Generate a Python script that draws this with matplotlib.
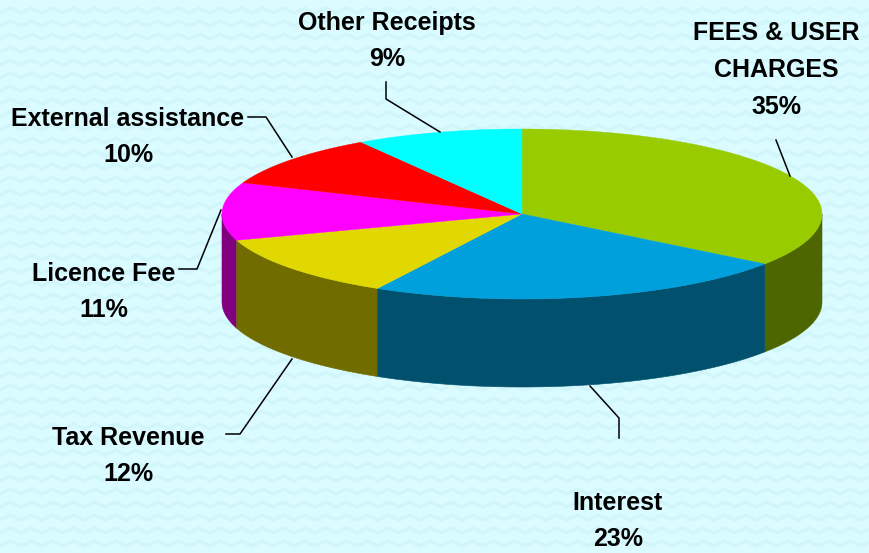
import numpy as np
import matplotlib
matplotlib.use("Agg")
import matplotlib.pyplot as plt
from matplotlib.patches import Polygon

categories = ["FEES & USER\nCHARGES", "Interest", "Tax Revenue", "Licence Fee", "External assistance", "Other Receipts"]
shares = [35, 23, 12, 11, 10, 9]
top_colors = ["#99CC00", "#00A0DC", "#E0D800", "#FF00FF", "#FF0000", "#00FFFF"]
side_colors = ["#4D6600", "#00506E", "#706C00", "#800080", "#800000", "#008080"]
label_xy = [(776, 70), (618, 521), (128, 456), (104, 292), (128, 137), (387, 41)]
leaders = [[(790,176),(776,140)], [(590,386),(619,418),(619,438)], [(292,359),(240,434),(226,434)],
           [(221,210),(197,269),(179,269)], [(292,157),(266,117),(248,117)], [(440,132),(386,99),(386,82)]]

W, H = 869, 553
fig = plt.figure(figsize=(W/100, H/100), dpi=100)
ax = fig.add_axes([0, 0, 1, 1])
ax.set_xlim(0, W); ax.set_ylim(H, 0); ax.axis("off")
fig.patch.set_facecolor("#DAFBFF")

# background zigzag texture
for y0 in np.arange(8, H+14, 13):
    xs = np.arange(-10.5, W+21, 10.5)
    ys = y0 + 5*(np.arange(len(xs)) % 2)
    ax.plot(xs, ys, color="#D1F6FA", lw=2.4, zorder=0, solid_joinstyle="miter")

cx, cy, rx, ry, depth = 522, 214, 300, 85, 88
fr = np.cumsum([0] + shares) / sum(shares)
ang = 2*np.pi*fr   # clockwise from 12 o'clock
def pt(a, d=0):
    return cx + rx*np.sin(a), cy - ry*np.cos(a) + d

# visible rim: only the front half of the ellipse
for i in [3, 2, 0, 1]:
    a0, a1 = max(ang[i], np.pi/2), min(ang[i+1], 3*np.pi/2)
    if a1 <= a0:
        continue
    a = np.linspace(a0, a1, 120)
    xs, ys = pt(a)
    xb, yb = pt(a[::-1], depth)
    ax.add_patch(Polygon(np.column_stack([np.r_[xs, xb], np.r_[ys, yb]]),
                         fc=side_colors[i], ec=side_colors[i], lw=0.4, zorder=2))

for i in range(len(shares)):
    a = np.linspace(ang[i], ang[i+1], 200)
    xs, ys = pt(a)
    ax.add_patch(Polygon(np.column_stack([np.r_[cx, xs], np.r_[cy, ys]]),
                         fc=top_colors[i], ec=top_colors[i], lw=0.3, zorder=5))

for seg in leaders:
    s = np.array(seg)
    ax.plot(s[:,0], s[:,1], color="black", lw=1.1, zorder=6)

for name, sh, (x, y) in zip(categories, shares, label_xy):
    ax.text(x, y, f"{name}\n{sh}%", ha="center", va="center", fontsize=18, fontweight="bold",
            family="Liberation Sans", linespacing=1.68, color="black", zorder=7)

fig.savefig("out.png", dpi=100, facecolor=fig.get_facecolor())
